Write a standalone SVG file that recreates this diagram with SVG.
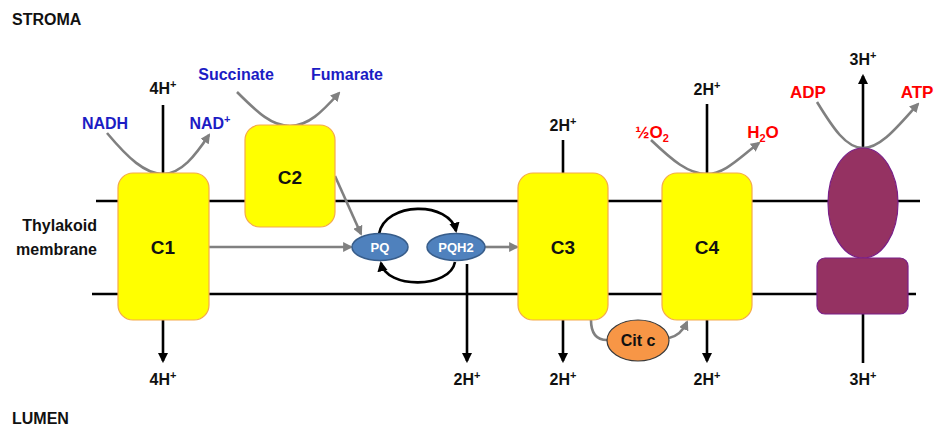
<svg xmlns="http://www.w3.org/2000/svg" width="936" height="428" viewBox="0 0 936 428">
<style>
text{font-family:"Liberation Sans",Arial,sans-serif;font-weight:bold;}
.lbl{font-size:16px;fill:#111;}
.h{font-size:16px;fill:#111;text-anchor:middle;}
.blue{font-size:16px;fill:#1C1CC4;text-anchor:middle;}
.red{font-size:17px;fill:#FF0000;text-anchor:middle;}
.cx{font-size:19px;fill:#111;text-anchor:middle;}
.box{fill:#FFFF00;stroke:#F5A94A;stroke-width:1.2;}
.atp{fill:#953262;stroke:#7A1F88;stroke-width:1.2;}
.mem{stroke:#000;stroke-width:2.6;fill:none;}
.blk{stroke:#000;stroke-width:2.6;fill:none;}
.gry{stroke:#808080;stroke-width:2.6;fill:none;}
.pq{fill:#4F81BD;stroke:#385D8A;stroke-width:1.5;}
.pqt{font-size:13px;fill:#fff;text-anchor:middle;}
</style>
<defs>
<marker id="ag" viewBox="0 0 10 10" refX="8" refY="5" markerWidth="3.8" markerHeight="3.8" orient="auto"><path d="M0,0 L10,5 L0,10 z" fill="#808080"/></marker>
<marker id="ab" viewBox="0 0 10 10" refX="8" refY="5" markerWidth="4" markerHeight="4" orient="auto"><path d="M0,0 L10,5 L0,10 z" fill="#000"/></marker>
</defs>

<g id="membrane">
<line class="mem" x1="96" y1="201" x2="920" y2="201"/>
<line class="mem" x1="92" y1="294" x2="916" y2="294"/>
</g>

<g id="labels">
<text class="lbl" x="12" y="25">STROMA</text>
<text class="lbl" x="12" y="424">LUMEN</text>
<text class="lbl" x="97" y="231" text-anchor="end">Thylakoid</text>
<text class="lbl" x="97" y="255" text-anchor="end">membrane</text>
</g>

<g id="connectors">
<line class="blk" x1="163" y1="105" x2="163" y2="174"/>
<line class="blk" x1="563" y1="140" x2="563" y2="174"/>
<line class="blk" x1="707" y1="104" x2="707" y2="174"/>
<line class="blk" x1="863" y1="148" x2="863" y2="76" marker-end="url(#ab)"/>
<line class="blk" x1="163" y1="320" x2="163" y2="361" marker-end="url(#ab)"/>
<line class="blk" x1="467" y1="264" x2="467" y2="361" marker-end="url(#ab)"/>
<line class="blk" x1="563" y1="320" x2="563" y2="361" marker-end="url(#ab)"/>
<line class="blk" x1="707" y1="320" x2="707" y2="361" marker-end="url(#ab)"/>
<line class="blk" x1="863" y1="314" x2="863" y2="363"/>
<path class="gry" d="M107,133 C128,158 145,174 163,174 C181,174 195,156 209,135" marker-end="url(#ag)"/>
<path class="gry" d="M237,92 C258,113 272,126 290,126 C308,126 322,112 339,93" marker-end="url(#ag)"/>
<path class="gry" d="M651,140 C672,160 688,174 707,174 C725,174 740,157 759,143" marker-end="url(#ag)"/>
<path class="gry" d="M817,102 C833,128 846,148 863,148 C881,148 898,126 918,104" marker-end="url(#ag)"/>
<line class="gry" x1="209" y1="247" x2="351" y2="247" marker-end="url(#ag)"/>
<line class="gry" x1="335" y1="176" x2="361" y2="234" marker-end="url(#ag)"/>
<line class="gry" x1="485" y1="247" x2="517" y2="247" marker-end="url(#ag)"/>
<path class="blk" d="M379,234 C385,201 450,201 456,231" marker-end="url(#ab)"/>
<path class="blk" d="M455,262 C450,289 386,289 381,263" marker-end="url(#ab)"/>
<path class="gry" d="M591,320 C591,334 597,340 607,340"/>
<path class="gry" d="M669,338 C678,336 683,331 687,322" marker-end="url(#ag)"/>
</g>

<g id="C1"><rect class="box" x="118" y="173" width="91" height="147" rx="15"/><text class="cx" x="163" y="254">C1</text></g>
<g id="C2"><rect class="box" x="245" y="125" width="90" height="102" rx="15"/><text class="cx" x="290" y="184">C2</text></g>
<g id="C3"><rect class="box" x="518" y="173" width="90" height="147" rx="15"/><text class="cx" x="563" y="254">C3</text></g>
<g id="C4"><rect class="box" x="662" y="173" width="90" height="147" rx="15"/><text class="cx" x="707" y="254">C4</text></g>
<g id="ATPsynthase">
<ellipse class="atp" cx="863" cy="203" rx="35" ry="55"/>
<rect class="atp" x="817" y="258" width="91" height="56" rx="8"/>
</g>
<g id="PQ"><ellipse class="pq" cx="380" cy="247" rx="28" ry="13.5"/><text class="pqt" x="380" y="251.5">PQ</text></g>
<g id="PQH2"><ellipse class="pq" cx="456" cy="247" rx="29" ry="13.5"/><text class="pqt" x="456" y="251.5">PQH2</text></g>
<g id="Citc"><ellipse cx="638" cy="340.5" rx="31" ry="20.5" fill="#F79646" stroke="#3a3a3a" stroke-width="1.2"/><text x="638" y="346" font-size="16" fill="#111" text-anchor="middle">Cit c</text></g>

<g id="protons">
<text class="h" x="163" y="94">4H<tspan font-size="11" dy="-6">+</tspan></text>
<text class="h" x="563" y="131">2H<tspan font-size="11" dy="-6">+</tspan></text>
<text class="h" x="707" y="95">2H<tspan font-size="11" dy="-6">+</tspan></text>
<text class="h" x="863" y="65">3H<tspan font-size="11" dy="-6">+</tspan></text>
<text class="h" x="163" y="385">4H<tspan font-size="11" dy="-6">+</tspan></text>
<text class="h" x="467" y="385">2H<tspan font-size="11" dy="-6">+</tspan></text>
<text class="h" x="563" y="385">2H<tspan font-size="11" dy="-6">+</tspan></text>
<text class="h" x="707" y="385">2H<tspan font-size="11" dy="-6">+</tspan></text>
<text class="h" x="863" y="385">3H<tspan font-size="11" dy="-6">+</tspan></text>
</g>

<g id="substrates">
<text class="blue" x="105" y="129">NADH</text>
<text class="blue" x="210" y="129">NAD<tspan font-size="11" dy="-6">+</tspan></text>
<text class="blue" x="236" y="80">Succinate</text>
<text class="blue" x="347" y="80">Fumarate</text>
<text class="red" x="652" y="138">½O<tspan font-size="11" dy="4">2</tspan></text>
<text class="red" x="763" y="138">H<tspan font-size="11" dy="4">2</tspan><tspan dy="-4">O</tspan></text>
<text class="red" x="808" y="98">ADP</text>
<text class="red" x="917" y="98">ATP</text>
</g>
</svg>
